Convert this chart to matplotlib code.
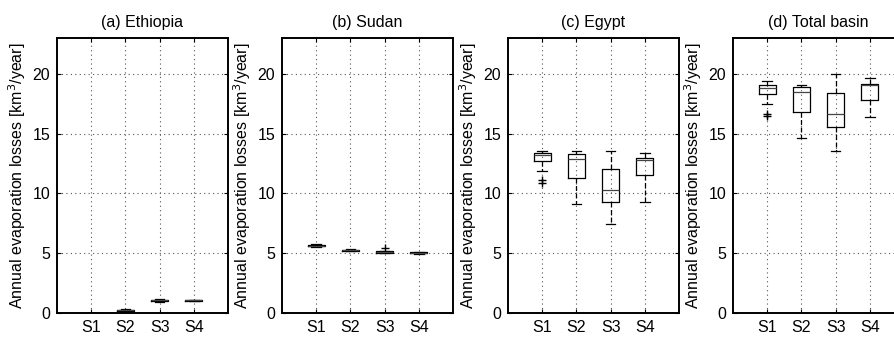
import matplotlib.pyplot as plt
import numpy as np

plt.rcParams['font.family'] = ['Liberation Sans', 'DejaVu Sans']

scenarios = ['S1', 'S2', 'S3', 'S4']
titles = ['(a) Ethiopia', '(b) Sudan', '(c) Egypt', '(d) Total basin']

# box statistics (km3/year): whislo, q1, med, q3, whishi
eth_lo = [0.0, 0.10, 0.92, 1.02]
eth_q1 = [0.0, 0.18, 1.02, 1.04]
eth_med = [0.0, 0.22, 1.06, 1.06]
eth_q3 = [0.0, 0.26, 1.10, 1.08]
eth_hi = [0.0, 0.36, 1.20, 1.10]
eth_fl = [[], [], [], []]

sud_lo = [5.55, 5.16, 5.02, 4.95]
sud_q1 = [5.58, 5.20, 5.06, 4.98]
sud_med = [5.64, 5.24, 5.10, 5.02]
sud_q3 = [5.70, 5.30, 5.16, 5.08]
sud_hi = [5.80, 5.38, 5.22, 5.12]
sud_fl = [[], [], [5.45], []]

egy_lo = [11.86, 9.14, 7.42, 9.28]
egy_q1 = [12.72, 11.33, 9.28, 11.50]
egy_med = [13.20, 12.92, 10.28, 12.80]
egy_q3 = [13.42, 13.30, 12.03, 13.00]
egy_hi = [13.56, 13.53, 13.56, 13.36]
egy_fl = [[11.15, 10.85], [], [], []]

tot_lo = [17.47, 14.61, 13.56, 16.36]
tot_q1 = [18.33, 16.80, 15.56, 17.78]
tot_med = [18.81, 18.47, 16.67, 19.05]
tot_q3 = [19.11, 18.92, 18.39, 19.15]
tot_hi = [19.39, 19.11, 20.00, 19.65]
tot_fl = [[16.67, 16.45], [], [], []]

panels = [
    (eth_lo, eth_q1, eth_med, eth_q3, eth_hi, eth_fl),
    (sud_lo, sud_q1, sud_med, sud_q3, sud_hi, sud_fl),
    (egy_lo, egy_q1, egy_med, egy_q3, egy_hi, egy_fl),
    (tot_lo, tot_q1, tot_med, tot_q3, tot_hi, tot_fl),
]

fig = plt.figure(figsize=(8.95, 3.38), dpi=100)
lefts = [57, 282, 508, 733]

for k in range(4):
    ax = fig.add_axes([lefts[k] / 895, 25 / 338, 171 / 895, 275 / 338])
    lo, q1, med, q3, hi, fl = panels[k]
    stats = []
    for i in range(4):
        stats.append({'whislo': lo[i], 'q1': q1[i], 'med': med[i],
                      'q3': q3[i], 'whishi': hi[i], 'fliers': fl[i]})
    ax.bxp(stats, positions=[1, 2, 3, 4], widths=0.5, capwidths=0.28,
           boxprops=dict(color='black', linewidth=0.9),
           medianprops=dict(color='#444444', linewidth=0.9),
           whiskerprops=dict(color='black', linewidth=0.9, linestyle=(0, (4, 2))),
           capprops=dict(color='black', linewidth=0.9),
           flierprops=dict(marker='+', markeredgecolor='black', markersize=6,
                           markeredgewidth=1.0))
    ax.set_xlim(0, 5)
    ax.set_ylim(0, 23)
    ax.set_yticks([0, 5, 10, 15, 20])
    ax.set_xticks([1, 2, 3, 4])
    ax.set_xticklabels(scenarios)
    ax.tick_params(direction='in', length=3, width=0.8, labelsize=11.5,
                   top=True, right=True, pad=5)
    ax.grid(True, linestyle=(0, (1, 3)), color='#555555', linewidth=0.8)
    ax.set_axisbelow(True)
    for s in ax.spines.values():
        s.set_linewidth(1.4)
    ax.set_title(titles[k], fontsize=11.5, pad=8)
    ax.set_ylabel('Annual evaporation losses [km$^3$/year]', fontsize=11.5, labelpad=3)

fig.savefig('out.png', dpi=100)
